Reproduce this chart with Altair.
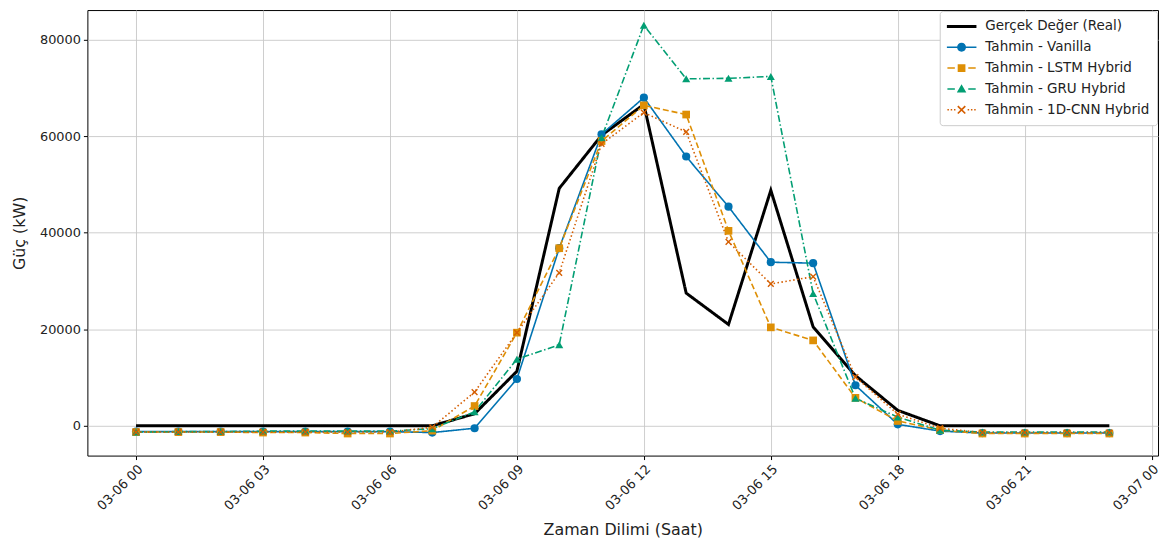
import altair as alt
import pandas as pd

hours = list(range(24))
series_names = ["Gerçek Değer (Real)", "Tahmin - Vanilla", "Tahmin - LSTM Hybrid",
                "Tahmin - GRU Hybrid", "Tahmin - 1D-CNN Hybrid"]
colors = ["#000000", "#0173B2", "#DE8F05", "#029E73", "#D55E00"]

real = [0, 0, 0, 0, 0, 0, 0, 0, 2500, 11300, 49200, 60200, 66600, 27500,
        21000, 48800, 20500, 10400, 3200, 0, 0, 0, 0, 0]
vanilla = [-1200, -1200, -1200, -1200, -1200, -1200, -1200, -1400, -500, 9700,
           36800, 60400, 68000, 55800, 45400, 33900, 33700, 8400, 300, -1100,
           -1500, -1500, -1500, -1500]
lstm = [-1300, -1300, -1300, -1400, -1400, -1600, -1600, -1000, 4100, 19300,
        36800, 59000, 66400, 64500, 40400, 20400, 17700, 5800, 1000, -900,
        -1600, -1600, -1600, -1600]
gru = [-1300, -1200, -1200, -1100, -1100, -1100, -1100, -600, 2900, 13800,
       16800, 59700, 83000, 71900, 72000, 72400, 27400, 5700, 1800, -900,
       -1300, -1300, -1300, -1300]
cnn = [-1300, -1300, -1300, -1300, -1300, -1300, -1300, -300, 7000, 19300,
       31700, 58400, 64900, 60900, 38100, 29400, 30900, 10100, 2400, -500,
       -1400, -1400, -1400, -1400]

all_values = [real, vanilla, lstm, gru, cnn]
rows = []
for name, vals in zip(series_names, all_values):
    for h, v in zip(hours, vals):
        rows.append({"Zaman": f"2024-03-06 {h:02d}:00", "Guc": v, "Seri": name})
df = pd.DataFrame(rows)

x_ticks = [alt.DateTime(year=2024, month=3, date=6, hours=h) for h in range(0, 24, 3)] + \
          [alt.DateTime(year=2024, month=3, date=7, hours=0)]
x_dom = [alt.DateTime(year=2024, month=3, date=5, hours=22, minutes=51),
         alt.DateTime(year=2024, month=3, date=7, hours=0, minutes=9)]

color_scale = alt.Scale(domain=series_names, range=colors)
dash_scale = alt.Scale(domain=series_names,
                       range=[[1, 0], [1, 0], [6, 3], [7, 2.5, 1.5, 2.5], [1.5, 2.5]])
X_PATH = "M-0.8,-0.8L0.8,0.8M-0.8,0.8L0.8,-0.8"


# ---- legend symbol paths (filled shapes, unit box -1..1) ----
def rect(x0, x1, h):
    return f"M{x0},{-h}H{x1}V{h}H{x0}Z"


def circle(r):
    return f"M{-r},0A{r},{r} 0 1,1 {r},0A{r},{r} 0 1,1 {-r},0Z"


def tri(r):
    return f"M0,{-r}L{r},{r * 0.75}H{-r}Z"


def xmark(a, t):
    b1 = f"M{-a + t},{-a - t}L{a + t},{a - t}L{a - t},{a + t}L{-a - t},{-a + t}Z"
    b2 = f"M{-a + t},{a + t}L{-a - t},{a - t}L{a - t},{-a - t}L{a + t},{-a + t}Z"
    return b1 + b2


def dots(xs, h):
    return "".join(rect(x - h, x + h, h) for x in xs)


leg_real = rect(-1, 1, 0.1)
leg_van = rect(-1, -0.28, 0.05) + rect(0.28, 1, 0.05) + circle(0.3)
leg_lstm = rect(-0.95, -0.45, 0.05) + rect(0.45, 0.95, 0.05) + rect(-0.26, 0.26, 0.26)
leg_gru = rect(-0.95, -0.45, 0.05) + rect(0.45, 0.95, 0.05) + tri(0.32)
leg_cnn = dots([-0.9, -0.68, -0.46, 0.46, 0.68, 0.9], 0.05) + xmark(0.25, 0.04)
legend_shape_scale = alt.Scale(domain=series_names,
                               range=[leg_real, leg_van, leg_lstm, leg_gru, leg_cnn])

x_enc = alt.X("Zaman:T", title="Zaman Dilimi (Saat)",
              scale=alt.Scale(domain=x_dom),
              axis=alt.Axis(values=x_ticks, format="%m-%d %H", labelAngle=-45,
                            labelAlign="right", labelBaseline="top",
                            titlePadding=9))
y_enc = alt.Y("Guc:Q", title="Güç (kW)",
              scale=alt.Scale(domain=[-6170, 86150], nice=False, zero=False),
              axis=alt.Axis(values=[0, 20000, 40000, 60000, 80000], format="d",
                            titlePadding=12))

legend = alt.Legend(title=None, orient="top-right")
stroke_enc = alt.Stroke("Seri:N", scale=color_scale, legend=None)
fill_enc = alt.Fill("Seri:N", scale=color_scale, legend=None)

base = alt.Chart(df)

# layer that only carries the legend (no rows), line + marker symbols
legend_layer = base.transform_filter("false").mark_point(
    filled=True, opacity=1).encode(
    x=x_enc, y=y_enc,
    color=alt.Color("Seri:N", scale=color_scale, legend=legend),
    shape=alt.Shape("Seri:N", scale=legend_shape_scale, legend=legend),
)

real_line = base.transform_filter(alt.datum.Seri == series_names[0]).mark_line(
    strokeWidth=3).encode(
    x=x_enc, y=y_enc, stroke=stroke_enc,
    strokeDash=alt.StrokeDash("Seri:N", scale=dash_scale, legend=None),
)
pred_lines = base.transform_filter(alt.datum.Seri != series_names[0]).mark_line(
    strokeWidth=1.6).encode(
    x=x_enc, y=y_enc, stroke=stroke_enc,
    strokeDash=alt.StrokeDash("Seri:N", scale=dash_scale, legend=None),
    detail="Seri:N",
)

marker_specs = [
    (series_names[1], "circle", True, 68),
    (series_names[2], "square", True, 60),
    (series_names[3], "triangle-up", True, 66),
    (series_names[4], X_PATH, False, 52),
]
point_layers = []
for name, shp, filled, sz in marker_specs:
    mk = base.transform_filter(alt.datum.Seri == name).mark_point(
        shape=shp, filled=filled, size=sz, opacity=1, strokeWidth=1.4)
    if filled:
        mk = mk.encode(x=x_enc, y=y_enc, fill=fill_enc)
    else:
        mk = mk.encode(x=x_enc, y=y_enc, stroke=stroke_enc)
    point_layers.append(mk)

chart = alt.layer(legend_layer, real_line, pred_lines, *point_layers).properties(
    width=1079, height=449,
    padding={"left": 3, "top": 0, "right": 0, "bottom": 0}
).configure_view(
    stroke="#000000", strokeWidth=1
).configure_axis(
    grid=True, gridColor="#c8c8c8", gridWidth=0.9,
    domain=False, tickColor="#000000", tickSize=4, tickWidth=1,
    labelFont="DejaVu Sans", labelFontSize=13, labelColor="#222222",
    titleFont="DejaVu Sans", titleFontSize=16, titleFontWeight="normal",
    titleColor="#222222", labelPadding=3,
).configure_legend(
    labelFont="DejaVu Sans", labelFontSize=13.6, labelColor="#222222",
    fillColor="#ffffff", strokeColor="#cccccc", padding=7, cornerRadius=3,
    offset=1, symbolSize=900, clipHeight=17, symbolStrokeWidth=0,
    rowPadding=4, labelLimit=300, labelOffset=9,
)

chart.save("out.html", embed_options={"renderer": "svg", "actions": False})
